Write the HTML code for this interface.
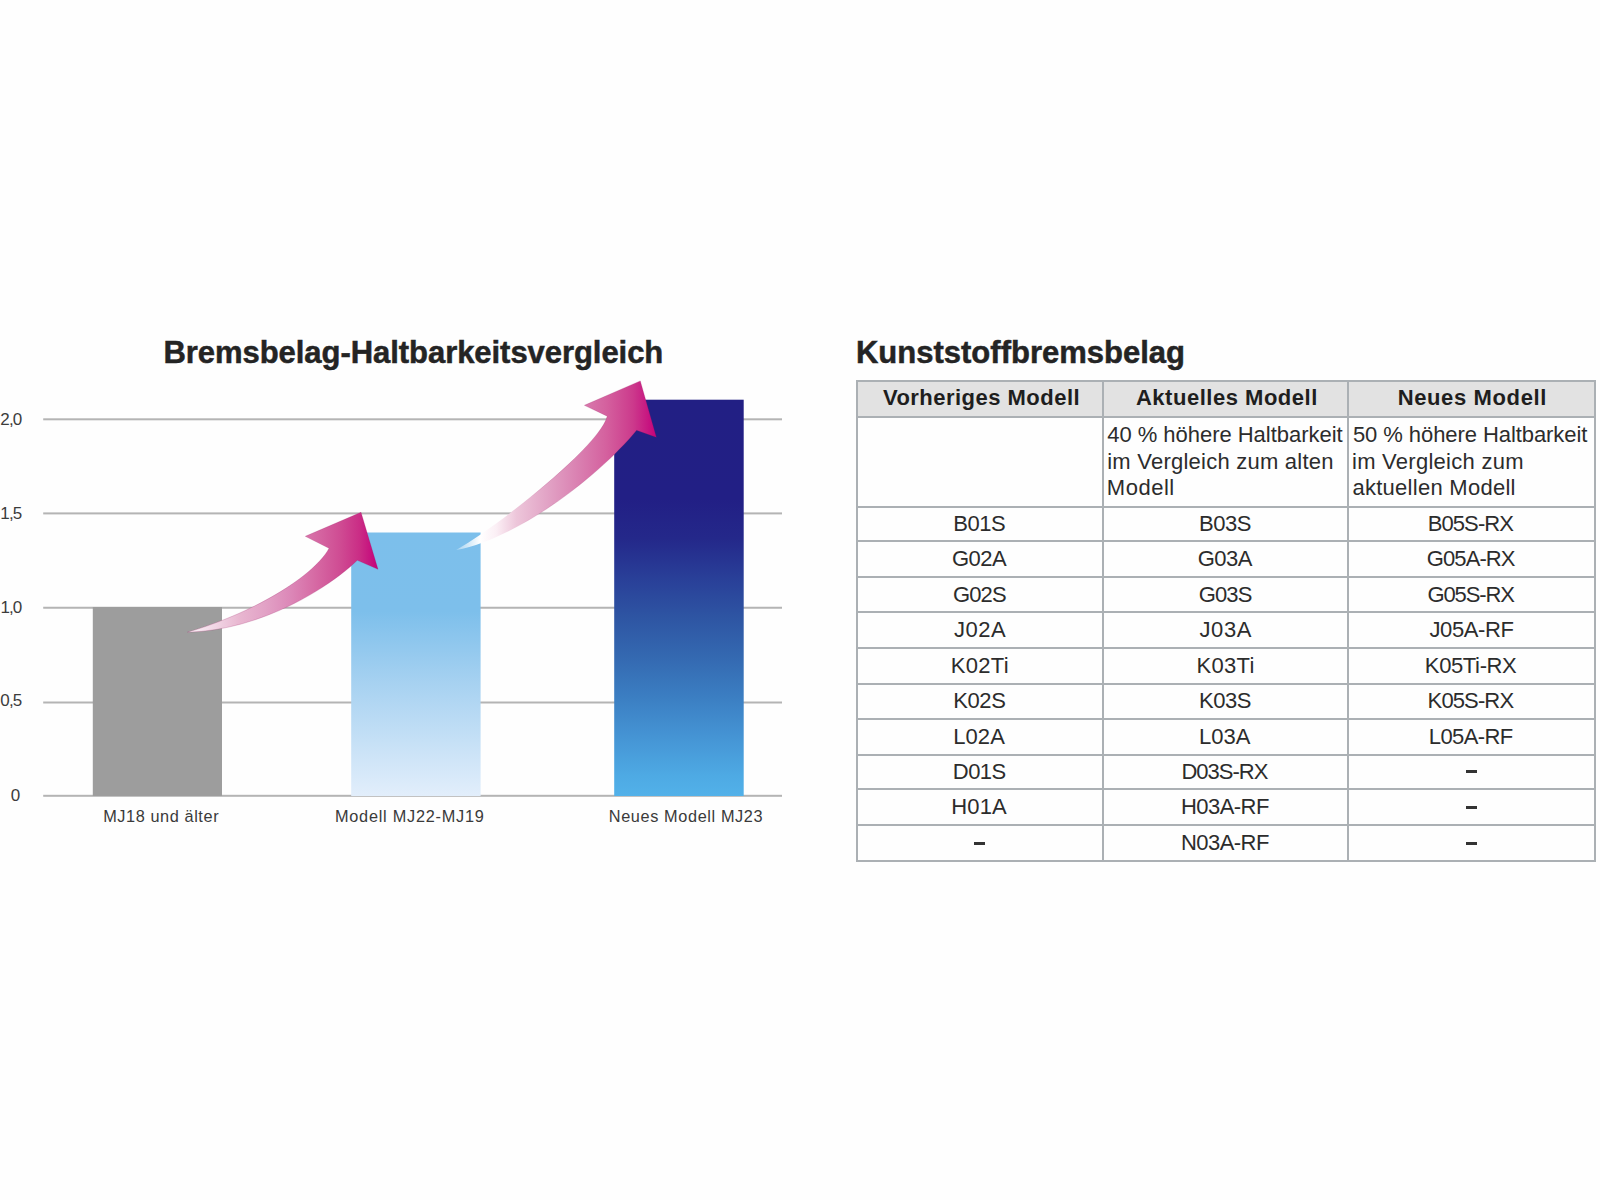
<!DOCTYPE html>
<html><head><meta charset="utf-8">
<style>
html,body{margin:0;padding:0;}
body{width:1600px;height:1200px;background:#fefefe;position:relative;overflow:hidden;font-family:"Liberation Sans",sans-serif;}
.t{position:absolute;white-space:nowrap;line-height:1;}
.gl{position:absolute;left:43px;width:739px;height:2px;background:#b5b5b5;}
.bar{position:absolute;}
.hl{position:absolute;left:856px;width:740px;height:2px;background:#abb0b4;}
.vl{position:absolute;top:380px;width:2px;height:482px;background:#abb0b4;}
</style></head><body>

<div class="t" style="left:163.49px;top:337px;font-size:31px;font-weight:bold;letter-spacing:-0.05px;color:#242424;-webkit-text-stroke:0.5px #242424;">Bremsbelag-Haltbarkeitsvergleich</div>
<svg width="1600" height="1200" style="position:absolute;left:0;top:0"><rect x="43.2" y="418.30" width="738.8" height="2" fill="#b4b4b4"/><rect x="43.2" y="512.40" width="738.8" height="2" fill="#b4b4b4"/><rect x="43.2" y="606.75" width="738.8" height="2" fill="#b4b4b4"/><rect x="43.2" y="701.50" width="738.8" height="2" fill="#b4b4b4"/><rect x="43.2" y="794.80" width="738.8" height="2" fill="#b4b4b4"/></svg>
<div class="t" style="left:0.25px;top:411px;font-size:17px;letter-spacing:-0.80px;color:#3c3c3c;">2,0</div>
<div class="t" style="left:0.25px;top:505px;font-size:17px;letter-spacing:-0.80px;color:#3c3c3c;">1,5</div>
<div class="t" style="left:0.50px;top:599px;font-size:17px;letter-spacing:-0.93px;color:#3c3c3c;">1,0</div>
<div class="t" style="left:0.34px;top:692px;font-size:17px;letter-spacing:-0.84px;color:#3c3c3c;">0,5</div>
<div class="t" style="left:10.72px;top:787px;font-size:17px;color:#3c3c3c;">0</div>
<svg width="1600" height="1200" style="position:absolute;left:0;top:0">
<defs>
<linearGradient id="lb" x1="0" y1="0" x2="0" y2="1">
<stop offset="0" stop-color="#7cbfeb"/><stop offset="0.3" stop-color="#7dbfeb"/><stop offset="0.58" stop-color="#a8d2f1"/><stop offset="1" stop-color="#e2eefb"/>
</linearGradient>
<linearGradient id="db" x1="0" y1="0" x2="0" y2="1">
<stop offset="0" stop-color="#221f84"/><stop offset="0.25" stop-color="#221f85"/><stop offset="0.35" stop-color="#24288a"/><stop offset="0.45" stop-color="#293f98"/><stop offset="0.55" stop-color="#2e55a3"/><stop offset="0.65" stop-color="#3469b1"/><stop offset="0.75" stop-color="#3b7ec2"/><stop offset="0.85" stop-color="#4594d4"/><stop offset="0.95" stop-color="#4eaae4"/><stop offset="1" stop-color="#52b1e9"/>
</linearGradient>
</defs>
<rect x="92.8" y="607" width="129.2" height="189" fill="#9d9d9d"/>
<rect x="351.2" y="532.5" width="129.4" height="263.5" fill="url(#lb)"/>
<rect x="614.2" y="399.7" width="129.5" height="396.3" fill="url(#db)"/>
</svg>
<div class="t" style="left:103.20px;top:808px;font-size:16.3px;letter-spacing:0.59px;color:#3a3a3a;">MJ18 und älter</div>
<div class="t" style="left:335.00px;top:808px;font-size:16.3px;letter-spacing:0.75px;color:#3a3a3a;">Modell MJ22-MJ19</div>
<div class="t" style="left:608.80px;top:808px;font-size:16.3px;letter-spacing:0.62px;color:#3a3a3a;">Neues Modell MJ23</div>
<svg width="1600" height="1200" style="position:absolute;left:0;top:0">
<defs>
<linearGradient id="g1" gradientUnits="userSpaceOnUse" x1="187" y1="0" x2="378" y2="0">
<stop offset="0" stop-color="#fbf4f8"/>
<stop offset="0.147" stop-color="#f1d6e5"/>
<stop offset="0.277" stop-color="#e8b6d0"/>
<stop offset="0.408" stop-color="#e2a2c6"/>
<stop offset="0.539" stop-color="#dc88b8"/>
<stop offset="0.670" stop-color="#d66aa4"/>
<stop offset="0.801" stop-color="#cf4c93"/>
<stop offset="0.906" stop-color="#ca2c85"/>
<stop offset="1" stop-color="#c4007a"/>
</linearGradient>
<linearGradient id="g2" gradientUnits="userSpaceOnUse" x1="456" y1="0" x2="657" y2="0">
<stop offset="0" stop-color="#ffffff" stop-opacity="0.3"/>
<stop offset="0.12" stop-color="#ffffff" stop-opacity="1"/>
<stop offset="0.2" stop-color="#fbeff5"/>
<stop offset="0.3" stop-color="#edc6da"/>
<stop offset="0.45" stop-color="#e2a4c6"/>
<stop offset="0.6" stop-color="#da82b2"/>
<stop offset="0.75" stop-color="#d4609e"/>
<stop offset="0.88" stop-color="#cc3a8c"/>
<stop offset="1" stop-color="#c4007a"/>
</linearGradient>
<linearGradient id="g2s" gradientUnits="userSpaceOnUse" x1="456" y1="0" x2="657" y2="0">
<stop offset="0.25" stop-color="#96145a" stop-opacity="0"/>
<stop offset="0.5" stop-color="#96145a" stop-opacity="0.3"/>
</linearGradient>
</defs>
<path d="M187.5,632.2 C260.7,610.7 316.2,572.9 329,548.3 L305.3,536.3 L361,512.3 L378,569.3 L357.3,560.3 C330.2,586.7 262.2,630.3 187.5,632.2 Z" fill="url(#g1)" stroke="rgba(150,20,90,0.3)" stroke-width="0.7"/>
<path d="M456.2,550 C505.7,521 600.6,444.3 607.2,416.2 L584.4,405.3 L640.3,380.9 L656.3,437.2 L636.6,430.3 C602.9,471.8 521.6,537.3 456.2,550 Z" fill="url(#g2)" stroke="url(#g2s)" stroke-width="0.7"/>
</svg>
<div class="t" style="left:855.99px;top:337px;font-size:31px;font-weight:bold;color:#242424;-webkit-text-stroke:0.5px #242424;">Kunststoffbremsbelag</div>
<div class="bar" style="left:857px;top:381px;width:738px;height:36px;background:#e2e2e2"></div>
<div class="hl" style="top:380.0px"></div>
<div class="hl" style="top:416.0px"></div>
<div class="hl" style="top:505.5px"></div>
<div class="hl" style="top:540.2px"></div>
<div class="hl" style="top:576.0px"></div>
<div class="hl" style="top:610.6px"></div>
<div class="hl" style="top:646.6px"></div>
<div class="hl" style="top:682.5px"></div>
<div class="hl" style="top:717.7px"></div>
<div class="hl" style="top:753.6px"></div>
<div class="hl" style="top:788.2px"></div>
<div class="hl" style="top:824.0px"></div>
<div class="hl" style="top:860.0px"></div>
<div class="vl" style="left:856.00px"></div>
<div class="vl" style="left:1101.75px"></div>
<div class="vl" style="left:1347.40px"></div>
<div class="vl" style="left:1593.50px"></div>
<div class="t" style="left:882.88px;top:387px;font-size:22px;font-weight:bold;letter-spacing:0.48px;color:#1e1e1e;">Vorheriges Modell</div>
<div class="t" style="left:1135.95px;top:387px;font-size:22px;font-weight:bold;letter-spacing:0.52px;color:#1e1e1e;">Aktuelles Modell</div>
<div class="t" style="left:1397.67px;top:387px;font-size:22px;font-weight:bold;letter-spacing:0.63px;color:#1e1e1e;">Neues Modell</div>
<div class="t" style="left:1107.25px;top:424px;font-size:22px;letter-spacing:-0.03px;color:#2c2c2c;">40 % höhere Haltbarkeit</div>
<div class="t" style="left:1352.92px;top:424px;font-size:22px;letter-spacing:-0.07px;color:#2c2c2c;">50 % höhere Haltbarkeit</div>
<div class="t" style="left:1107.17px;top:451px;font-size:22px;letter-spacing:0.24px;color:#2c2c2c;">im Vergleich zum alten</div>
<div class="t" style="left:1351.97px;top:451px;font-size:22px;letter-spacing:0.27px;color:#2c2c2c;">im Vergleich zum</div>
<div class="t" style="left:1106.84px;top:477px;font-size:22px;letter-spacing:0.52px;color:#2c2c2c;">Modell</div>
<div class="t" style="left:1352.41px;top:477px;font-size:22px;letter-spacing:0.27px;color:#2c2c2c;">aktuellen Modell</div>
<div class="t" style="left:953.25px;top:513px;font-size:22px;letter-spacing:-0.44px;color:#2c2c2c;">B01S</div>
<div class="t" style="left:1198.95px;top:513px;font-size:22px;letter-spacing:-0.44px;color:#2c2c2c;">B03S</div>
<div class="t" style="left:1427.63px;top:513px;font-size:22px;letter-spacing:-0.89px;color:#2c2c2c;">B05S-RX</div>
<div class="t" style="left:952.06px;top:548px;font-size:22px;letter-spacing:-0.56px;color:#2c2c2c;">G02A</div>
<div class="t" style="left:1197.76px;top:548px;font-size:22px;letter-spacing:-0.56px;color:#2c2c2c;">G03A</div>
<div class="t" style="left:1426.78px;top:548px;font-size:22px;letter-spacing:-0.90px;color:#2c2c2c;">G05A-RX</div>
<div class="t" style="left:953.01px;top:584px;font-size:22px;letter-spacing:-0.87px;color:#2c2c2c;">G02S</div>
<div class="t" style="left:1198.72px;top:584px;font-size:22px;letter-spacing:-0.87px;color:#2c2c2c;">G03S</div>
<div class="t" style="left:1427.45px;top:584px;font-size:22px;letter-spacing:-1.12px;color:#2c2c2c;">G05S-RX</div>
<div class="t" style="left:953.90px;top:619px;font-size:22px;letter-spacing:0.53px;color:#2c2c2c;">J02A</div>
<div class="t" style="left:1199.60px;top:619px;font-size:22px;letter-spacing:0.53px;color:#2c2c2c;">J03A</div>
<div class="t" style="left:1429.46px;top:619px;font-size:22px;letter-spacing:-0.38px;color:#2c2c2c;">J05A-RF</div>
<div class="t" style="left:950.73px;top:655px;font-size:22px;letter-spacing:0.33px;color:#2c2c2c;">K02Ti</div>
<div class="t" style="left:1196.43px;top:655px;font-size:22px;letter-spacing:0.33px;color:#2c2c2c;">K03Ti</div>
<div class="t" style="left:1424.83px;top:655px;font-size:22px;letter-spacing:-0.37px;color:#2c2c2c;">K05Ti-RX</div>
<div class="t" style="left:953.20px;top:690px;font-size:22px;letter-spacing:-0.40px;color:#2c2c2c;">K02S</div>
<div class="t" style="left:1198.89px;top:690px;font-size:22px;letter-spacing:-0.40px;color:#2c2c2c;">K03S</div>
<div class="t" style="left:1427.58px;top:690px;font-size:22px;letter-spacing:-0.87px;color:#2c2c2c;">K05S-RX</div>
<div class="t" style="left:953.20px;top:726px;font-size:22px;letter-spacing:0.08px;color:#2c2c2c;">L02A</div>
<div class="t" style="left:1198.89px;top:726px;font-size:22px;letter-spacing:0.08px;color:#2c2c2c;">L03A</div>
<div class="t" style="left:1428.75px;top:726px;font-size:22px;letter-spacing:-0.58px;color:#2c2c2c;">L05A-RF</div>
<div class="t" style="left:952.86px;top:761px;font-size:22px;letter-spacing:-0.58px;color:#2c2c2c;">D01S</div>
<div class="t" style="left:1181.42px;top:761px;font-size:22px;letter-spacing:-0.98px;color:#2c2c2c;">D03S-RX</div>
<div style="position:absolute;left:1466.00px;top:770px;width:10.9px;height:2.5px;background:#333"></div>
<div class="t" style="left:951.29px;top:796px;font-size:22px;letter-spacing:0.14px;color:#2c2c2c;">H01A</div>
<div class="t" style="left:1180.98px;top:796px;font-size:22px;letter-spacing:-0.55px;color:#2c2c2c;">H03A-RF</div>
<div style="position:absolute;left:1466.00px;top:806px;width:10.9px;height:2.5px;background:#333"></div>
<div style="position:absolute;left:974.42px;top:842px;width:10.9px;height:2.5px;background:#333"></div>
<div class="t" style="left:1180.98px;top:832px;font-size:22px;letter-spacing:-0.55px;color:#2c2c2c;">N03A-RF</div>
<div style="position:absolute;left:1466.00px;top:842px;width:10.9px;height:2.5px;background:#333"></div>
</body></html>
